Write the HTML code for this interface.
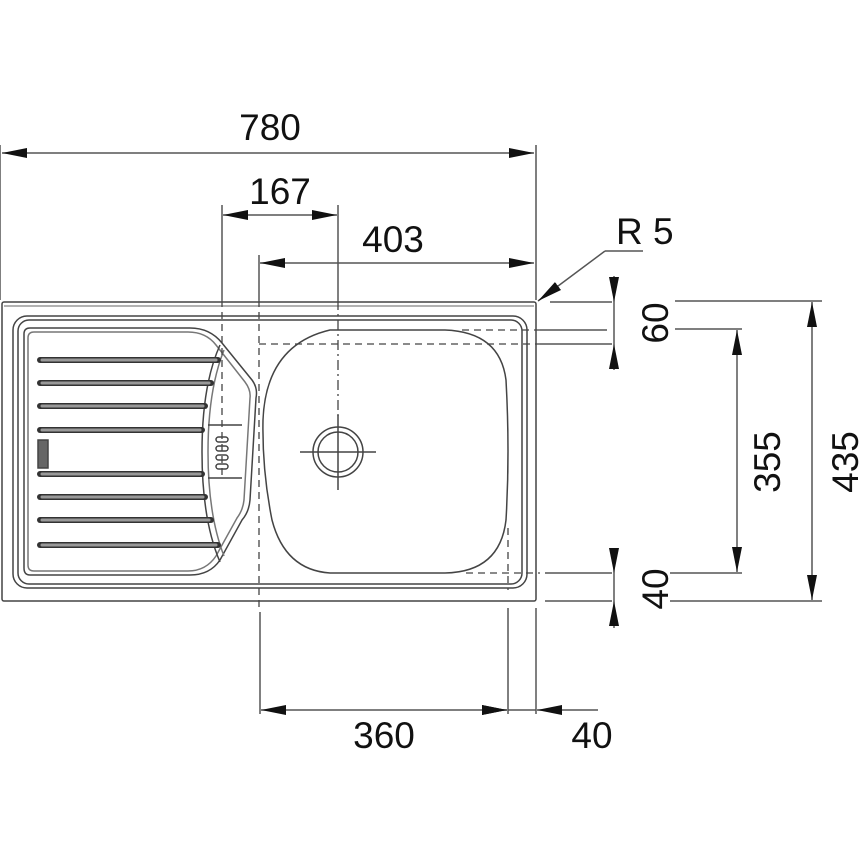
<!DOCTYPE html>
<html><head><meta charset="utf-8"><style>
html,body{margin:0;padding:0;background:#fff}
svg{display:block}
text{font-family:"Liberation Sans",sans-serif;font-size:37px;fill:#111}
</style></head><body>
<svg width="860" height="860" viewBox="0 0 860 860" xmlns="http://www.w3.org/2000/svg">
<defs>
<marker id="a" markerWidth="26" markerHeight="12" refX="25" refY="6" orient="auto" markerUnits="userSpaceOnUse">
<path d="M0,1 L25,6 L0,11 Z" fill="#111"/></marker>
</defs>
<g stroke="#555" stroke-width="1.5" fill="none">
<line x1="0" y1="145" x2="0" y2="300"/>
<line x1="536" y1="145" x2="536" y2="300"/>
<line x1="222" y1="205" x2="222" y2="300"/>
<line x1="338" y1="205" x2="338" y2="300"/>
<line x1="259" y1="255" x2="259" y2="300"/>
<line x1="268" y1="153" x2="2" y2="153" marker-end="url(#a)"/>
<line x1="268" y1="153" x2="534" y2="153" marker-end="url(#a)"/>
<line x1="280" y1="215" x2="223" y2="215" marker-end="url(#a)"/>
<line x1="280" y1="215" x2="337" y2="215" marker-end="url(#a)"/>
<line x1="400" y1="263" x2="260" y2="263" marker-end="url(#a)"/>
<line x1="400" y1="263" x2="534" y2="263" marker-end="url(#a)"/>
<line x1="643" y1="251" x2="605" y2="251"/>
<line x1="605" y1="251" x2="538" y2="301" marker-end="url(#a)"/>
<line x1="550" y1="302" x2="612" y2="302"/>
<line x1="540" y1="330" x2="607" y2="330"/>
<line x1="540" y1="344" x2="612" y2="344"/>
<line x1="675" y1="301" x2="822" y2="301"/>
<line x1="675" y1="329" x2="742" y2="329"/>
<line x1="545" y1="573" x2="612" y2="573"/>
<line x1="545" y1="601" x2="612" y2="601"/>
<line x1="670" y1="573" x2="742" y2="573"/>
<line x1="670" y1="601" x2="822" y2="601"/>
<line x1="614" y1="276" x2="614" y2="302" marker-end="url(#a)"/>
<line x1="614" y1="370" x2="614" y2="344" marker-end="url(#a)"/>
<line x1="614" y1="302" x2="614" y2="344"/>
<line x1="614" y1="548" x2="614" y2="573" marker-end="url(#a)"/>
<line x1="614" y1="628" x2="614" y2="601" marker-end="url(#a)"/>
<line x1="614" y1="573" x2="614" y2="601"/>
<line x1="737" y1="450" x2="737" y2="330" marker-end="url(#a)"/>
<line x1="737" y1="450" x2="737" y2="572" marker-end="url(#a)"/>
<line x1="812" y1="450" x2="812" y2="302" marker-end="url(#a)"/>
<line x1="812" y1="450" x2="812" y2="600" marker-end="url(#a)"/>
<line x1="260" y1="612" x2="260" y2="714"/>
<line x1="508" y1="608" x2="508" y2="714"/>
<line x1="536" y1="608" x2="536" y2="714"/>
<line x1="380" y1="710" x2="261" y2="710" marker-end="url(#a)"/>
<line x1="380" y1="710" x2="507" y2="710" marker-end="url(#a)"/>
<line x1="482" y1="710" x2="507" y2="710" marker-end="url(#a)"/>
<line x1="598" y1="710" x2="537" y2="710" marker-end="url(#a)"/>
<line x1="508" y1="710" x2="536" y2="710"/>
</g>
<g stroke="#444" fill="none" stroke-width="1.5">
<rect x="2" y="302" width="534" height="299" rx="2"/>
<line x1="4" y1="306" x2="534" y2="306" stroke="#999"/>
<rect x="13" y="316" width="514" height="272" rx="14"/>
<rect x="18" y="320" width="504" height="264" rx="11"/>
<path d="M24,334 Q24,328 30,328 L190,328 Q210,328 222,343 L252,380 Q258,388 256,398 L250,500 Q249,512 242,520 L220,560 Q210,575 190,575 L30,575 Q24,575 24,568 Z"/>
<path d="M28,338 Q28,332 34,332 L188,332 Q206,332 216,345 L245,382 Q251,390 250,398 L244,500 Q243,510 237,518 L216,556 Q206,571 188,571 L34,571 Q28,571 28,565 Z" stroke="#777"/>
<path d="M220,345 Q202,385 202,452 Q202,520 220,562" />
<path d="M224,350 Q208,390 208,452 Q208,515 224,556" stroke="#777"/>
<line x1="208" y1="425" x2="242" y2="425"/>
<line x1="208" y1="478" x2="242" y2="478"/>
<rect x="216" y="437" width="12" height="5" rx="2.5"/>
<rect x="216" y="446" width="12" height="5" rx="2.5"/>
<rect x="216" y="455" width="12" height="5" rx="2.5"/>
<rect x="216" y="464" width="12" height="5" rx="2.5"/>
<rect x="38" y="440" width="10" height="28" fill="#666"/>
<path d="M330,330 L445,330 Q500,332 506,380 Q510,452 506,520 Q500,572 445,573 L330,573 Q285,570 272,520 Q262,470 263,420 Q266,345 330,330 Z"/>
<circle cx="338" cy="452" r="25"/>
<circle cx="338" cy="452" r="20"/>
<line x1="300" y1="452" x2="376" y2="452"/>
<line x1="338" y1="415" x2="338" y2="490"/>
</g>
<g stroke="#333" stroke-width="6" stroke-linecap="round">
<line x1="40" y1="360" x2="218" y2="360"/>
<line x1="40" y1="383" x2="211" y2="383"/>
<line x1="40" y1="406" x2="205" y2="406"/>
<line x1="40" y1="430" x2="202" y2="430"/>
<line x1="40" y1="474" x2="202" y2="474"/>
<line x1="40" y1="497" x2="205" y2="497"/>
<line x1="40" y1="520" x2="211" y2="520"/>
<line x1="40" y1="545" x2="218" y2="545"/>
</g>
<g stroke="#999" stroke-width="3" stroke-linecap="round">
<line x1="42" y1="360" x2="216" y2="360"/>
<line x1="42" y1="383" x2="209" y2="383"/>
<line x1="42" y1="406" x2="203" y2="406"/>
<line x1="42" y1="430" x2="200" y2="430"/>
<line x1="42" y1="474" x2="200" y2="474"/>
<line x1="42" y1="497" x2="203" y2="497"/>
<line x1="42" y1="520" x2="209" y2="520"/>
<line x1="42" y1="545" x2="216" y2="545"/>
</g>
<g stroke="#444" stroke-width="1.3" fill="none" stroke-dasharray="7,5">
<line x1="222" y1="300" x2="222" y2="480"/>
<line x1="259" y1="300" x2="259" y2="610"/>
<line x1="259" y1="344" x2="540" y2="344"/>
<line x1="462" y1="330" x2="540" y2="330"/>
<line x1="338" y1="300" x2="338" y2="420" stroke-dasharray="10,4,2,4"/>
<line x1="466" y1="573" x2="540" y2="573"/>
<line x1="508" y1="528" x2="508" y2="590"/>
</g>
<text x="270" y="140" text-anchor="middle">780</text>
<text x="280" y="204" text-anchor="middle">167</text>
<text x="393" y="252" text-anchor="middle">403</text>
<text x="616" y="244">R 5</text>
<text x="384" y="748" text-anchor="middle">360</text>
<text x="592" y="748" text-anchor="middle">40</text>
<text transform="translate(668,323) rotate(-90)" text-anchor="middle">60</text>
<text transform="translate(668,589) rotate(-90)" text-anchor="middle">40</text>
<text transform="translate(780,462) rotate(-90)" text-anchor="middle">355</text>
<text transform="translate(858,462) rotate(-90)" text-anchor="middle">435</text>
</svg>
</body></html>
